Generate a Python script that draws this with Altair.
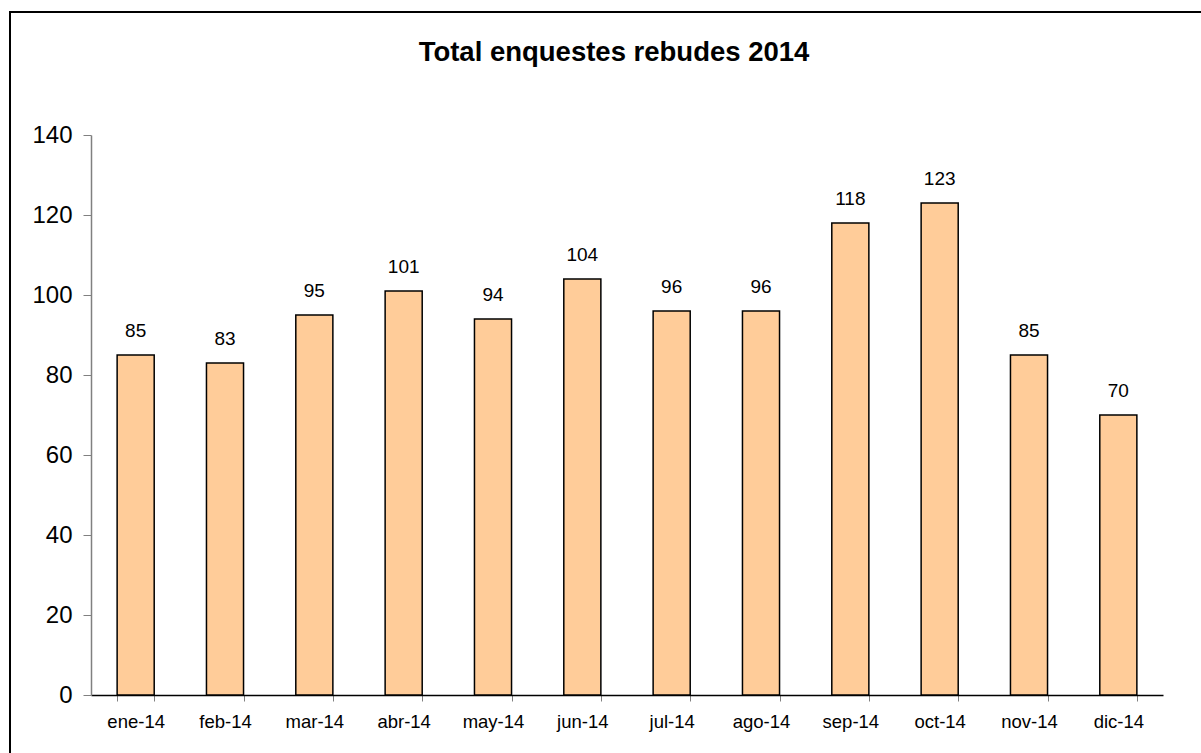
import altair as alt
import pandas as pd

months = ["ene-14", "feb-14", "mar-14", "abr-14", "may-14", "jun-14",
          "jul-14", "ago-14", "sep-14", "oct-14", "nov-14", "dic-14"]
values = [85, 83, 95, 101, 94, 104, 96, 96, 118, 123, 85, 70]
y_ticks = [0, 20, 40, 60, 80, 100, 120, 140]
title_text = "Total enquestes rebudes 2014"

df = pd.DataFrame({"mes": months, "total": values})

FONT = "Liberation Sans"

x_enc = alt.X("mes:N", sort=months, title=None,
              scale=alt.Scale(paddingInner=0.585, paddingOuter=0.2925),
              axis=alt.Axis(labelAngle=0, labelFontSize=18.5, labelFont=FONT,
                            labelColor="black", tickBand="extent", tickSize=6,
                            tickColor="#808080", domainColor="black",
                            domainWidth=1.5, labelPadding=11, grid=False))
y_enc = alt.Y("total:Q", title=None,
              scale=alt.Scale(domain=[0, 140], nice=False),
              axis=alt.Axis(values=y_ticks, labelFontSize=24, labelFont=FONT,
                            labelColor="black", tickSize=8, tickColor="#808080",
                            domainColor="#808080", domainWidth=1.5,
                            labelPadding=11, grid=False))

bars = alt.Chart(df).mark_bar(fill="#FFCC99", stroke="black",
                              strokeWidth=1.5).encode(x=x_enc, y=y_enc)

labels = alt.Chart(df).mark_text(fontSize=19, font=FONT, color="black",
                                 baseline="alphabetic", dy=-18).encode(
    x=alt.X("mes:N", sort=months),
    y=alt.Y("total:Q"),
    text=alt.Text("total:Q"))

border = alt.Chart(df).mark_rect(fill=None, stroke="black",
                                 strokeWidth=2).encode(
    x=alt.value(-81), x2=alt.value(1200),
    y=alt.value(-123), y2=alt.value(700))

title_df = pd.DataFrame({"t": [title_text]})
title = alt.Chart(title_df).mark_text(fontSize=27.5, font=FONT,
                                      fontWeight="bold", color="black",
                                      align="center",
                                      baseline="alphabetic").encode(
    x=alt.value(523), y=alt.value(-74), text="t:N")

chart = alt.layer(border, bars, labels, title).properties(
    width=1072, height=560,
    view=alt.ViewBackground(stroke="white", strokeWidth=0, strokeOpacity=0),
    autosize=alt.AutoSizeParams(type="none"),
    padding={"left": 91, "top": 135, "right": 38, "bottom": 58},
).configure_view(strokeOpacity=0, strokeWidth=0).configure(background="white")

chart.save("out.html", embed_options={"renderer": "svg", "actions": False})
